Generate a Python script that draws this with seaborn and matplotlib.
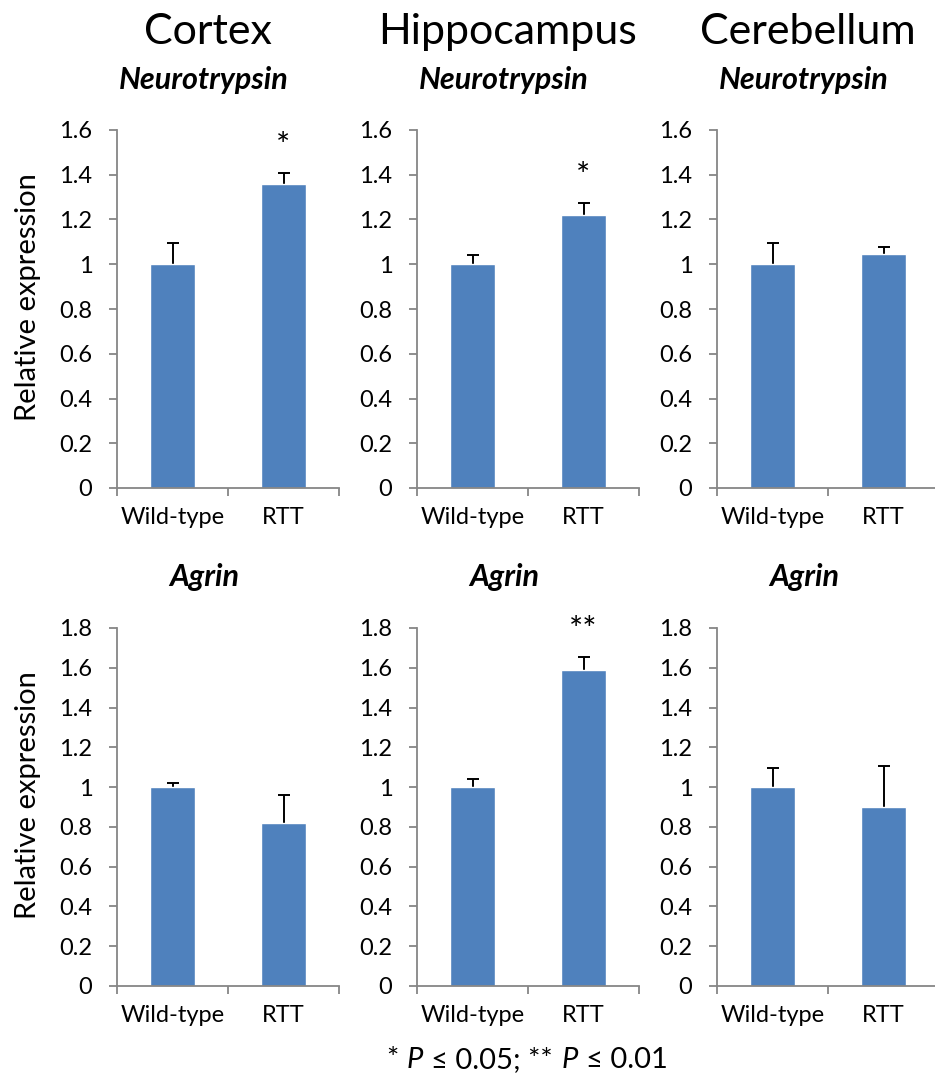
import matplotlib
matplotlib.use("Agg")
import matplotlib.pyplot as plt
import seaborn as sns
import pandas as pd
from matplotlib.ticker import FuncFormatter, FixedLocator, MultipleLocator, NullFormatter
from matplotlib.offsetbox import TextArea, HPacker, AnnotationBbox

# ---------------- data ----------------
regions = ["Cortex", "Hippocampus", "Cerebellum"]
genes = ["Neurotrypsin", "Agrin"]
groups = ["Wild-type", "RTT"]

neuro_means = [[1.00, 1.36], [1.00, 1.22], [1.00, 1.045]]
neuro_errs = [[0.095, 0.05], [0.04, 0.055], [0.095, 0.03]]
neuro_sig = [["", "*"], ["", "*"], ["", ""]]

agrin_means = [[1.00, 0.82], [1.00, 1.59], [1.00, 0.90]]
agrin_errs = [[0.02, 0.14], [0.04, 0.065], [0.095, 0.205]]
agrin_sig = [["", ""], ["", "**"], ["", ""]]

ylims = [1.6, 1.8]
ylabel = "Relative expression"
footnote_parts = [("*", "normal"), ("P", "italic"), ("≤ 0.05; **", "normal"),
                  ("P", "italic"), ("≤ 0.01", "normal")]

# ---------------- style ----------------
sns.set_theme(style="white")
FONT = ['Lato', 'DejaVu Sans']
plt.rcParams['font.family'] = FONT
for k in ["text.color", "axes.labelcolor", "xtick.color", "ytick.color"]:
    plt.rcParams[k] = "black"

BAR = "#4F81BD"
AX = "#868686"
W, H = 935, 1080
fig = plt.figure(figsize=(W / 100, H / 100), dpi=100)
fig.patch.set_facecolor("white")

TICK_FS = 17
rows = [(neuro_means, neuro_errs, neuro_sig), (agrin_means, agrin_errs, agrin_sig)]
row_pix = [(130, 488), (628, 986)]
gene_title_y = [80, 577]
ylabel_y = [297, 795]

for r, (means, errs, sigs) in enumerate(rows):
    top, bot = row_pix[r]
    for c, region in enumerate(regions):
        left = 117 + 300 * c
        ax = fig.add_axes([left / W, 1 - bot / H, 222 / W, (bot - top) / H])
        df = pd.DataFrame({"group": groups, "value": means[c]})
        sns.barplot(data=df, x="group", y="value", color=BAR, saturation=1,
                    width=0.4, ax=ax, zorder=2)
        eb = ax.errorbar(x=range(len(groups)), y=means[c],
                         yerr=[[0] * len(groups), errs[c]],
                         fmt="none", ecolor="black", elinewidth=1.4, capsize=4,
                         capthick=1.4, zorder=1)
        caps = eb[1]
        if len(caps) >= 2:
            caps[0].set_visible(False)  # hide lower caps
        for i, s in enumerate(sigs[c]):
            if s:
                ax.annotate(s, xy=(i, means[c][i] + errs[c][i]), xytext=(0, 12),
                            textcoords="offset points", ha="center", va="baseline",
                            fontsize=24, annotation_clip=False)
        ax.set_xlim(-0.5, len(groups) - 0.5)
        ax.set_ylim(0, ylims[r])
        ax.yaxis.set_major_locator(MultipleLocator(0.2))
        ax.yaxis.set_major_formatter(FuncFormatter(lambda v, p: f"{round(v, 1):g}"))
        ax.xaxis.set_minor_locator(FixedLocator([-0.5, 0.5, 1.5]))
        ax.xaxis.set_minor_formatter(NullFormatter())
        ax.set_xlabel("")
        ax.set_ylabel("")
        for side in ["top", "right"]:
            ax.spines[side].set_visible(False)
        for side in ["left", "bottom"]:
            ax.spines[side].set_color(AX)
            ax.spines[side].set_linewidth(1.3)
        ax.tick_params(axis="y", which="major", direction="out", length=5.8, width=1.3,
                       color=AX, labelcolor="black", pad=12, labelsize=TICK_FS, left=True)
        ax.tick_params(axis="x", which="major", length=0, pad=14, labelsize=TICK_FS,
                       labelcolor="black")
        ax.tick_params(axis="x", which="minor", direction="out", length=5.8, width=1.3,
                       color=AX, bottom=True)
        ax.grid(False)
        ax.set_facecolor("none")

        fig.text((left + 111 - 24) / W, 1 - gene_title_y[r] / H, genes[r],
                 ha="center", va="center", fontsize=22, fontweight="bold",
                 fontstyle="italic")
        if r == 0:
            fig.text((left + 111 - 20) / W, 1 - 32 / H, region, ha="center",
                     va="center", fontsize=31)
    fig.text(28 / W, 1 - ylabel_y[r] / H, ylabel, rotation=90, ha="center",
             va="center", fontsize=21)

# footnote
areas = [TextArea(t, textprops=dict(fontsize=21, fontstyle=st, family=FONT,
                                    color="black"))
         for t, st in footnote_parts]
pack = HPacker(children=areas, sep=6, pad=0, align="baseline")
ab = AnnotationBbox(pack, (527 / W, 1 - 1060 / H), xycoords="figure fraction",
                    frameon=False, box_alignment=(0.5, 0.5))
fig.add_artist(ab)

fig.savefig("out.png", dpi=100, facecolor="white")
